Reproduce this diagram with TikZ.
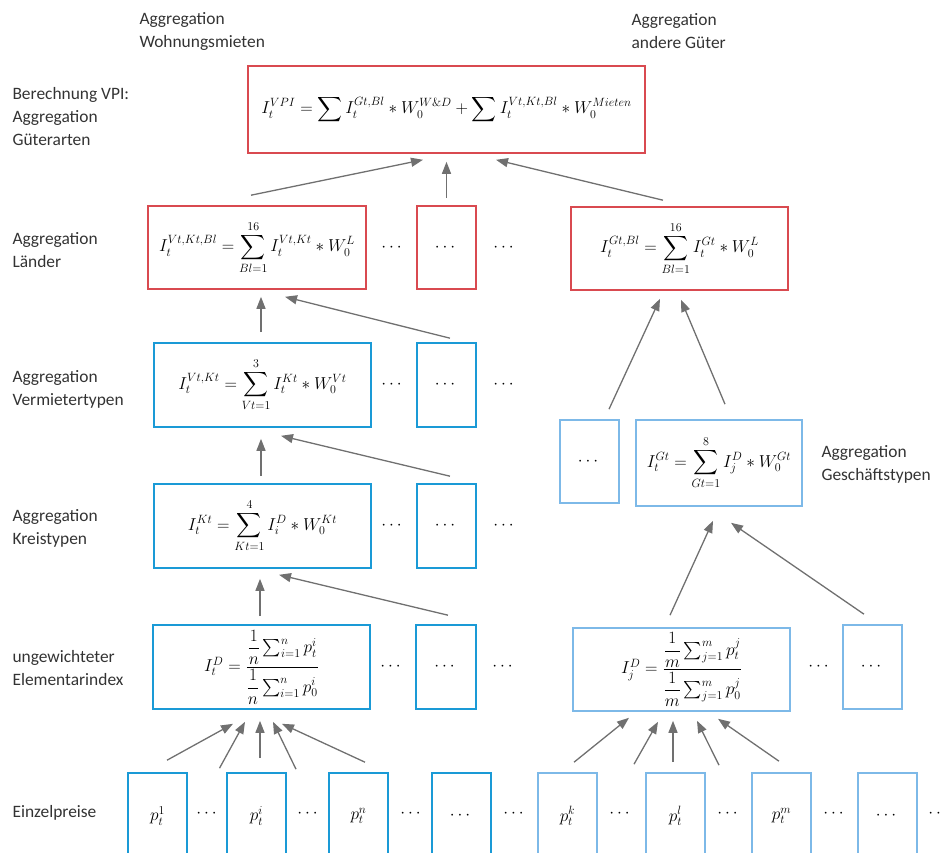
\documentclass[tikz,border=0pt]{standalone}
\usepackage{amsmath}
\usepackage[no-math]{fontspec}
\setmainfont{Carlito}
\usetikzlibrary{arrows.meta,calc}

\definecolor{vpired}{HTML}{D94A50}
\definecolor{mietblue}{HTML}{1A9AD6}
\definecolor{gutblue}{HTML}{7DB9E8}
\definecolor{arrowgray}{HTML}{707070}
\definecolor{textgray}{HTML}{333333}

\tikzset{
  redbox/.style={draw=vpired, line width=1.6pt, inner sep=0pt},
  bluebox/.style={draw=mietblue, line width=1.6pt, inner sep=0pt},
  lightbox/.style={draw=gutblue, line width=1.6pt, inner sep=0pt},
  arr/.style={draw=arrowgray, line width=1.3pt, -{Triangle[length=12pt,width=9pt]}},
  lbl/.style={anchor=west, align=left, text=textgray, font=\fontsize{17.4}{23}\selectfont},
  dotsnode/.style={inner sep=0pt}
}

\begin{document}
\begin{tikzpicture}[x=1pt, y=-1pt, font=\fontsize{17.28}{20}\selectfont]
    \useasboundingbox (0,0) rectangle (945,853);
    \clip (0,0) rectangle (945,853);

    % Column and row labels
    \node[lbl] (lmieten) at (136,31) {Aggregation\\Wohnungsmieten};
    \node[lbl] (lgueter) at (628,31) {Aggregation\\andere Güter};
    \node[lbl] (lvpi) at (9,117) {Berechnung VPI:\\Aggregation\\Güterarten};
    \node[lbl] (llaender) at (9,250) {Aggregation\\Länder};
    \node[lbl] (lvermieter) at (9,389) {Aggregation\\Vermietertypen};
    \node[lbl] (lkreis) at (9,528) {Aggregation\\Kreistypen};
    \node[lbl] (lelem) at (9,668) {ungewichteter\\Elementarindex};
    \node[lbl] (lpreise) at (9,813) {Einzelpreise};
    \node[lbl] (lgt) at (818,464) {Aggregation\\Geschäftstypen};

    % VPI
    \node[redbox, minimum width=397, minimum height=87] (vpi) at (446.5,109.5)
        {$\displaystyle I_t^{VPI} = \sum I_t^{Gt,Bl} * W_0^{W\&D} + \sum I_t^{Vt,Kt,Bl} * W_0^{Mieten}$};

    % Laender
    \node[redbox, minimum width=218, minimum height=83] (laender) at (257,247.5)
        {$\displaystyle I_t^{Vt,Kt,Bl} = \sum_{Bl=1}^{16} I_t^{Vt,Kt} * W_0^{L}$};
    \node[dotsnode] (laenderdots) at (393,247.5) {$\cdots$};
    \node[redbox, minimum width=59, minimum height=83] (laendersmall) at (446.5,247.5) {$\cdots$};
    \node[dotsnode] (laenderdotsb) at (505,247.5) {$\cdots$};
    \node[redbox, minimum width=217, minimum height=83] (gueter) at (679.5,248.5)
        {$\displaystyle I_t^{Gt,Bl} = \sum_{Bl=1}^{16} I_t^{Gt} * W_0^{L}$};

    % Vermietertypen
    \node[bluebox, minimum width=217, minimum height=84] (vermieter) at (262.5,385)
        {$\displaystyle I_t^{Vt,Kt} = \sum_{Vt=1}^{3} I_t^{Kt} * W_0^{Vt}$};
    \node[dotsnode] (vermieterdots) at (393,385) {$\cdots$};
    \node[bluebox, minimum width=59, minimum height=84] (vermietersmall) at (446.5,385) {$\cdots$};
    \node[dotsnode] (vermieterdotsb) at (505,385) {$\cdots$};

    % Geschaeftstypen
    \node[lightbox, minimum width=59, minimum height=83] (gtsmall) at (589.5,461.5) {$\cdots$};
    \node[lightbox, minimum width=166, minimum height=86] (gt) at (719,463)
        {$\displaystyle I_t^{Gt} = \sum_{Gt=1}^{8} I_j^{D} * W_0^{Gt}$};

    % Kreistypen
    \node[bluebox, minimum width=217, minimum height=84] (kreis) at (262.5,526)
        {$\displaystyle I_t^{Kt} = \sum_{Kt=1}^{4} I_i^{D} * W_0^{Kt}$};
    \node[dotsnode] (kreisdots) at (393,526) {$\cdots$};
    \node[bluebox, minimum width=59, minimum height=84] (kreissmall) at (446.5,526) {$\cdots$};
    \node[dotsnode] (kreisdotsb) at (505,526) {$\cdots$};

    % Elementarindizes
    \node[bluebox, minimum width=217, minimum height=84] (elem) at (261.5,667)
        {$I_t^D = \dfrac{\dfrac{1}{n}\textstyle\sum_{i=1}^{n} p_t^i}{\dfrac{1}{n}\textstyle\sum_{i=1}^{n} p_0^i}$};
    \node[dotsnode] (elemdots) at (392,667) {$\cdots$};
    \node[bluebox, minimum width=60, minimum height=84] (elemsmall) at (446,667) {$\cdots$};
    \node[dotsnode] (elemdotsb) at (504,667) {$\cdots$};
    \node[lightbox, minimum width=217, minimum height=83] (elemj) at (681.5,669.5)
        {$I_j^D = \dfrac{\dfrac{1}{m}\textstyle\sum_{j=1}^{m} p_t^j}{\dfrac{1}{m}\textstyle\sum_{j=1}^{m} p_0^j}$};
    \node[dotsnode] (elemjdots) at (820,667) {$\cdots$};
    \node[lightbox, minimum width=59, minimum height=84] (elemjsmall) at (872.5,667) {$\cdots$};

    % Einzelpreise
    \node[bluebox, minimum width=59, minimum height=86] (p1) at (157.5,816) {$p_t^1$};
    \node[dotsnode] (pdots1) at (208,814) {$\cdots$};
    \node[bluebox, minimum width=59, minimum height=86] (p2) at (256.5,816) {$p_t^i$};
    \node[dotsnode] (pdots2) at (309,814) {$\cdots$};
    \node[bluebox, minimum width=59, minimum height=86] (p3) at (358.5,816) {$p_t^n$};
    \node[dotsnode] (pdots3) at (412,814) {$\cdots$};
    \node[bluebox, minimum width=59, minimum height=86] (p4) at (461.5,816) {$\cdots$};
    \node[dotsnode] (pdots4) at (515,814) {$\cdots$};
    \node[lightbox, minimum width=59, minimum height=86] (p5) at (567.5,816) {$p_t^k$};
    \node[dotsnode] (pdots5) at (621,814) {$\cdots$};
    \node[lightbox, minimum width=59, minimum height=86] (p6) at (675.5,816) {$p_t^l$};
    \node[dotsnode] (pdots6) at (729,814) {$\cdots$};
    \node[lightbox, minimum width=59, minimum height=86] (p7) at (781.5,816) {$p_t^m$};
    \node[dotsnode] (pdots7) at (835,814) {$\cdots$};
    \node[lightbox, minimum width=59, minimum height=86] (p8) at (887.5,816) {$\cdots$};
    \node[dotsnode] (pdots8) at (940,814) {$\cdots$};

    % Arrows to VPI
    \draw[arr] ($(laender.north)+(-6,-10)$) -- ($(vpi.south)+(-23.5,6)$);
    \draw[arr] ($(laendersmall.north)+(0,-7)$) -- ($(vpi.south)+(0,8)$);
    \draw[arr] ($(gueter.north)+(-16.5,-6)$) -- ($(vpi.south)+(49.5,6)$);

    % Arrows to Laender
    \draw[arr] ($(vermieter.north)+(-1.5,-10)$) -- ($(laender.south)+(4,7)$);
    \draw[arr] ($(vermietersmall.north)+(3.5,-4)$) -- ($(laender.south)+(28,7)$);
    \draw[arr] ($(gtsmall.north)+(19.5,-10)$) -- ($(gueter.south)+(-19.5,8)$);
    \draw[arr] ($(gt.north)+(6,-15)$) -- ($(gueter.south)+(1.5,9)$);

    % Arrows to Vermietertypen
    \draw[arr] ($(kreis.north)+(-1.5,-7)$) -- ($(vermieter.south)+(-1.5,11)$);
    \draw[arr] ($(kreissmall.north)+(3.5,-7)$) -- ($(vermieter.south)+(18.5,8)$);

    % Arrows to Kreistypen and Geschaeftstypen
    \draw[arr] ($(elem.north)+(-1.5,-8)$) -- ($(kreis.south)+(-2.5,10)$);
    \draw[arr] ($(elemsmall.north)+(2,-9)$) -- ($(kreis.south)+(16.5,6)$);
    \draw[arr] ($(elemj.north)+(-11.5,-12)$) -- ($(gt.south)+(-6,14)$);
    \draw[arr] ($(elemjsmall.north)+(-8.5,-10)$) -- ($(gt.south)+(12,16)$);

    % Arrows to Elementarindizes
    \draw[arr] ($(p1.north)+(9.5,-12)$) -- ($(elem.south)+(-28.5,14)$);
    \draw[arr] ($(p1.north)!.5!(p2.north)+(12.5,-4)$) -- ($(elem.south)+(-16.5,12)$);
    \draw[arr] ($(p2.north)+(3.5,-14)$) -- ($(elem.south)+(-1.5,11)$);
    \draw[arr] ($(p2.north)!.5!(p3.north)+(-11.5,-3)$) -- ($(elem.south)+(11.5,12)$);
    \draw[arr] ($(p3.north)+(6.5,-10)$) -- ($(elem.south)+(20.5,14)$);
    \draw[arr] ($(p5.north)+(6.5,-10)$) -- ($(elemj.south)+(-52.5,6)$);
    \draw[arr] ($(p5.north)!.5!(p6.north)+(12.5,-8)$) -- ($(elemj.south)+(-23.5,10)$);
    \draw[arr] ($(p6.north)+(-2.5,-10)$) -- ($(elemj.south)+(-8.5,9)$);
    \draw[arr] ($(p6.north)!.5!(p7.north)+(-9.5,-7)$) -- ($(elemj.south)+(15.5,9)$);
    \draw[arr] ($(p7.north)+(-2.5,-11)$) -- ($(elemj.south)+(36.5,7)$);
\end{tikzpicture}
\end{document}
